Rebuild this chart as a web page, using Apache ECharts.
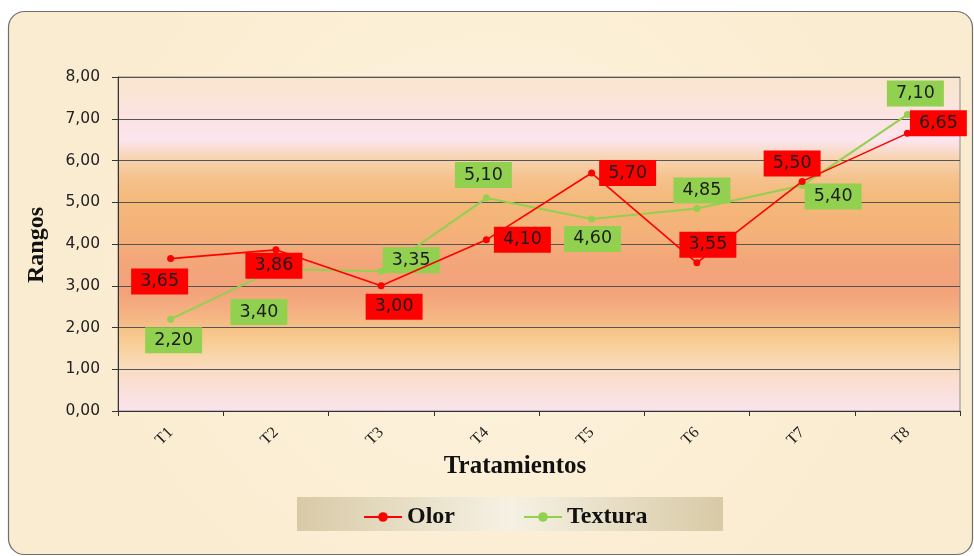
<!DOCTYPE html>
<html>
<head>
<meta charset="utf-8">
<script src="https://cdn.jsdelivr.net/npm/echarts@6/dist/echarts.min.js"></script>
<style>
  html, body { margin: 0; padding: 0; background: #ffffff; }
  #chart { width: 974px; height: 556px; }
</style>
</head>
<body>
<div id="chart"></div>
<script>
// Treatments and the two sensory attributes (mean ranks)
var categories = ['T1', 'T2', 'T3', 'T4', 'T5', 'T6', 'T7', 'T8'];
var olor = [3.65, 3.86, 3.00, 4.10, 5.70, 3.55, 5.50, 6.65];
var textura = [2.20, 3.40, 3.35, 5.10, 4.60, 4.85, 5.40, 7.10];
var yTicks = { min: 0, max: 8, interval: 1 };

// Label placement (pixel offsets from each point) so the boxes do not collide
var olorLabelOffset = [[-11, 23], [-2, 16], [13, 21], [36, 0], [36, 0], [11, -18], [-10, -18], [31, -10]];
var texturaLabelOffset = [[3, 21], [-17, 43], [30, -11], [-3, -23], [1, 20], [5, -18], [31, 11], [8, -21]];

function fmt(v) { return v.toFixed(2).replace('.', ','); }

function withLabels(values, offsets, bg) {
  return values.map(function (v, i) {
    return {
      value: v,
      label: {
        show: true,
        position: 'inside',
        offset: offsets[i],
        backgroundColor: bg,
        padding: [4, 9, 3, 9],
        color: '#1c1c1c',
        fontFamily: 'DejaVu Sans',
        fontSize: 17.5,
        lineHeight: 19,
        formatter: function (p) { return fmt(p.value); }
      }
    };
  });
}

var chart = echarts.init(document.getElementById('chart'), null, { renderer: 'canvas' });

var plotBg = new echarts.graphic.LinearGradient(0, 0, 0, 1, [
  { offset: 0.00, color: '#fae6cc' },
  { offset: 0.12, color: '#fbe3e2' },
  { offset: 0.19, color: '#fce5ee' },
  { offset: 0.25, color: '#f7d2ac' },
  { offset: 0.31, color: '#f5c08a' },
  { offset: 0.38, color: '#f4b878' },
  { offset: 0.48, color: '#f4b07a' },
  { offset: 0.55, color: '#f3a67a' },
  { offset: 0.64, color: '#f3a27a' },
  { offset: 0.70, color: '#f4b082' },
  { offset: 0.76, color: '#f6c488' },
  { offset: 0.82, color: '#f8d4a2' },
  { offset: 0.88, color: '#fadcc4' },
  { offset: 0.94, color: '#fae0dc' },
  { offset: 1.00, color: '#fae4ec' }
]);

var option = {
  backgroundColor: '#ffffff',
  animation: false,
  graphic: [
    {
      type: 'rect', z: -10, silent: true,
      shape: { x: 8.5, y: 11.5, width: 964, height: 543, r: 16 },
      style: {
        fill: new echarts.graphic.RadialGradient(0.5, 0.45, 0.8, [
          { offset: 0, color: '#fdf3de' },
          { offset: 1, color: '#faecd0' }
        ]),
        stroke: '#6e6e6e', lineWidth: 1.2
      }
    },
    {
      type: 'rect', z: -5, silent: true,
      shape: { x: 297, y: 497, width: 426, height: 34 },
      style: {
        fill: new echarts.graphic.LinearGradient(0, 0, 1, 0, [
          { offset: 0, color: '#d8caa6' },
          { offset: 0.5, color: '#f5f1e3' },
          { offset: 1, color: '#d8caa6' }
        ])
      }
    },
    {
      type: 'text', silent: true,
      x: 37, y: 245, rotation: Math.PI / 2,
      style: {
        text: 'Rangos', fill: '#111',
        font: 'bold 24px "Liberation Serif", "Times New Roman", serif',
        align: 'center', verticalAlign: 'middle'
      }
    },
    {
      type: 'text', silent: true,
      x: 515, y: 467,
      style: {
        text: 'Tratamientos', fill: '#111',
        font: 'bold 25px "Liberation Serif", "Times New Roman", serif',
        align: 'center', verticalAlign: 'middle'
      }
    }
  ],
  grid: {
    left: 118, right: 14, top: 77, bottom: 145,
    show: true,
    backgroundColor: plotBg,
    borderColor: '#8a8a8a',
    borderWidth: 1
  },
  legend: {
    left: 358, top: 500,
    itemWidth: 38, itemHeight: 12, itemGap: 68,
    textStyle: {
      fontFamily: '"Liberation Serif", "Times New Roman", serif',
      fontWeight: 'bold', fontSize: 24, color: '#111'
    },
    data: ['Olor', 'Textura']
  },
  xAxis: {
    type: 'category',
    data: categories,
    boundaryGap: true,
    axisLine: { lineStyle: { color: '#333', width: 1 } },
    axisTick: { show: true, length: 5, alignWithLabel: false, lineStyle: { color: '#333' } },
    axisLabel: {
      rotate: 45, margin: 19,
      fontFamily: '"Liberation Serif", "Times New Roman", serif',
      fontSize: 16, color: '#222'
    },
    splitLine: { show: false }
  },
  yAxis: {
    type: 'value',
    min: yTicks.min, max: yTicks.max, interval: yTicks.interval,
    axisLine: { show: true, lineStyle: { color: '#333', width: 1 } },
    axisTick: { show: true, length: 6, lineStyle: { color: '#333' } },
    axisLabel: {
      margin: 18,
      fontFamily: 'DejaVu Sans', fontSize: 15.5, color: '#222',
      formatter: function (v) { return fmt(v); }
    },
    splitLine: { show: true, lineStyle: { color: '#555', width: 1 } }
  },
  series: [
    {
      name: 'Olor', type: 'line',
      data: withLabels(olor, olorLabelOffset, '#ff0000'),
      color: '#ff0000',
      symbol: 'circle', symbolSize: 7,
      lineStyle: { width: 1.6, color: '#ff0000' },
      itemStyle: { color: '#ff0000' },
      z: 3
    },
    {
      name: 'Textura', type: 'line',
      data: withLabels(textura, texturaLabelOffset, '#92d050'),
      color: '#92d050',
      symbol: 'circle', symbolSize: 7,
      lineStyle: { width: 2, color: '#92d050' },
      itemStyle: { color: '#92d050' },
      z: 2
    }
  ]
};

chart.setOption(option);
</script>
</body>
</html>
